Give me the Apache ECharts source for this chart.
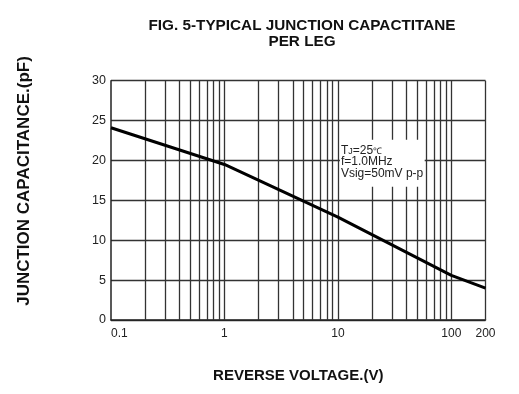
<!DOCTYPE html>
<html>
<head>
<meta charset="utf-8">
<script src="https://cdn.jsdelivr.net/npm/echarts@6/dist/echarts.min.js"></script>
<style>
  html, body { margin: 0; padding: 0; background: #fff; }
  #chart { width: 519px; height: 394px; }
</style>
</head>
<body>
<div id="chart"></div>
<script>
// Junction capacitance per leg vs. reverse voltage (log voltage axis)
const reverseVoltage = [0.1, 1, 10, 100, 200];           // V
const junctionCapacitance = [24.1, 19.5, 12.9, 5.6, 4.0]; // pF

// Labelled voltages on the log axis
const voltageTickLabels = [0.1, 1, 10, 100, 200];

// Vertical grid lines: every 1-2-3...9 step of each decade
const voltageGridLines = [
  0.2, 0.3, 0.4, 0.5, 0.6, 0.7, 0.8, 0.9,
  1, 2, 3, 4, 5, 6, 7, 8, 9,
  10, 20, 30, 40, 50, 60, 70, 80, 90,
  100, 200
];

// Capacitance axis
const capacitanceMin = 0;
const capacitanceMax = 30;
const capacitanceStep = 5;

const FONT = '"Liberation Sans", Arial, Helvetica, sans-serif';
const GRID_COLOR = '#333';

const chart = echarts.init(document.getElementById('chart'), null, { renderer: 'canvas' });

const option = {
  animation: false,
  backgroundColor: '#fff',
  title: {
    text: 'FIG. 5-TYPICAL JUNCTION CAPACTITANE\nPER LEG',
    left: 297,
    top: 13,
    textAlign: 'center',
    textStyle: {
      fontFamily: FONT,
      fontSize: 15.3,
      fontWeight: 'bold',
      color: '#111',
      lineHeight: 16
    }
  },
  grid: {
    left: 111,
    right: 33.5,
    top: 80.7,
    bottom: 74,
    containLabel: false
  },
  xAxis: {
    type: 'log',
    logBase: 10,
    min: 0.1,
    max: 200,
    name: 'REVERSE VOLTAGE.(V)',
    nameLocation: 'middle',
    nameGap: 48,
    nameTextStyle: {
      fontFamily: FONT,
      fontSize: 15,
      fontWeight: 'bold',
      color: '#111'
    },
    axisLine: { show: true, lineStyle: { color: '#222', width: 1.5 } },
    axisTick: { show: false },
    splitLine: { show: false },
    minorTick: { show: false },
    axisLabel: {
      show: true,
      margin: 8,
      fontFamily: FONT,
      fontSize: 12,
      color: '#222',
      alignMinLabel: 'left',
      formatter: function (v) {
        const hit = voltageTickLabels.find(t => Math.abs(t - v) / t < 1e-6);
        return hit === undefined ? '' : String(hit);
      }
    }
  },
  yAxis: {
    type: 'value',
    min: capacitanceMin,
    max: capacitanceMax,
    interval: capacitanceStep,
    axisLine: { show: true, lineStyle: { color: '#222', width: 1.5 } },
    axisTick: { show: false },
    splitLine: { show: true, lineStyle: { color: GRID_COLOR, width: 1.3 } },
    axisLabel: {
      margin: 5,
      fontFamily: FONT,
      fontSize: 12.5,
      color: '#222'
    }
  },
  series: [
    {
      // vertical log grid lines
      name: 'grid',
      type: 'line',
      data: [],
      silent: true,
      z: 1,
      markLine: {
        silent: true,
        z: 1,
        symbol: ['none', 'none'],
        label: { show: false },
        emphasis: { disabled: true },
        lineStyle: { type: 'solid', color: GRID_COLOR, width: 1.3 },
        data: voltageGridLines.map(v => ({ xAxis: v }))
      }
    },
    {
      name: 'Junction capacitance',
      type: 'line',
      data: reverseVoltage.map((v, i) => [v, junctionCapacitance[i]]),
      showSymbol: false,
      symbol: 'none',
      smooth: false,
      z: 5,
      lineStyle: { color: '#000', width: 3 }
    }
  ]
};

chart.setOption(option);

// Test-condition note, placed just right of the 10 V grid line
const xLeft = chart.convertToPixel({ xAxisIndex: 0 }, 10) + 2;
const xRight = chart.convertToPixel({ xAxisIndex: 0 }, 60) - 1.5;
const yTop = chart.convertToPixel({ yAxisIndex: 0 }, 22.6);
const yBottom = chart.convertToPixel({ yAxisIndex: 0 }, 16.7);

chart.setOption({
  graphic: [
    {
      type: 'rect',
      z: 20,
      silent: true,
      shape: { x: xLeft, y: yTop, width: xRight - xLeft, height: yBottom - yTop },
      style: { fill: '#fff' }
    },
    {
      type: 'text',
      z: 21,
      silent: true,
      x: xLeft + 1,
      y: yTop + 5,
      style: {
        text: '{n|T}{s|J}{n|=25}{s|℃}\n{n|f=1.0MHz}\n{n|Vsig=50mV p-p}',
        fill: '#222',
        font: '12px ' + FONT,
        lineHeight: 11.5,
        rich: {
          n: { fontFamily: FONT, fontSize: 12, lineHeight: 11.5, fill: '#222' },
          s: { fontFamily: FONT, fontSize: 9, lineHeight: 11.5, fill: '#222', verticalAlign: 'bottom' }
        }
      }
    },
    {
      // capacitance axis title
      type: 'text',
      silent: true,
      x: 24,
      y: 181,
      rotation: Math.PI / 2,
      style: {
        text: 'JUNCTION CAPACITANCE.(pF)',
        fontFamily: FONT,
        fontSize: 17,
        fontWeight: 'bold',
        fill: '#111',
        textAlign: 'center',
        textVerticalAlign: 'middle'
      }
    }
  ]
});
</script>
</body>
</html>
